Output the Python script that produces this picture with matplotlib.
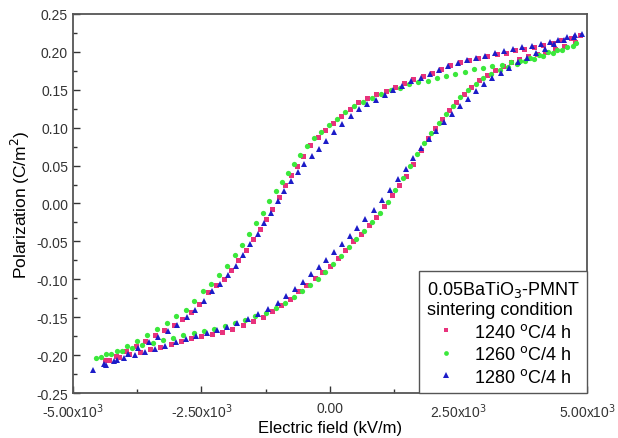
import matplotlib
matplotlib.use("Agg")
import matplotlib.pyplot as plt
from matplotlib.ticker import FixedLocator, MultipleLocator

plt.rcParams['font.family'] = ['Liberation Sans', 'DejaVu Sans']
plt.rcParams['axes.unicode_minus'] = False

# 1240 C / 4 h
x_up_1240 = [4860, 4680, 4500, 4330, 4150, 3960, 3780, 3600, 3420, 3240, 3060, 2880, 2700, 2520, 2340,
             2160, 1980, 1800, 1620, 1440, 1260, 1080, 900, 720, 540, 380, 220, 60, -100, -240,
             -380, -520, -640, -760, -880, -1000, -1120, -1240, -1370, -1500, -1640, -1780, -1920, -2070, -2220,
             -2380, -2540, -2700, -2870, -3040, -3220, -3400, -3590, -3780, -3970, -4170, -4380]
y_up_1240 = [0.222, 0.218, 0.215, 0.212, 0.209, 0.206, 0.204, 0.202, 0.199, 0.197, 0.195, 0.192, 0.189, 0.186, 0.182,
             0.177, 0.172, 0.168, 0.164, 0.159, 0.154, 0.148, 0.144, 0.139, 0.134, 0.124, 0.116, 0.106, 0.097, 0.088,
             0.077, 0.063, 0.050, 0.038, 0.024, 0.008, -0.007, -0.021, -0.034, -0.047, -0.061, -0.074, -0.088, -0.099, -0.107,
             -0.117, -0.132, -0.143, -0.152, -0.160, -0.167, -0.174, -0.181, -0.188, -0.195, -0.201, -0.207]
x_lo_1240 = [-4300, -4100, -3900, -3700, -3500, -3300, -3100, -2900, -2700, -2500, -2300, -2100, -1900, -1700, -1500,
             -1300, -1120, -950, -780, -620, -460, -300, -150, 0, 150, 300, 450, 600, 760, 900,
             1050, 1200, 1340, 1480, 1620, 1760, 1900, 2040, 2180, 2320, 2460, 2600, 2750, 2900, 3050,
             3200, 3360, 3520, 3680, 3850, 4020, 4190, 4370, 4560, 4760]
y_lo_1240 = [-0.206, -0.203, -0.199, -0.196, -0.192, -0.189, -0.185, -0.181, -0.178, -0.175, -0.172, -0.169, -0.165, -0.160, -0.155,
             -0.150, -0.142, -0.134, -0.126, -0.116, -0.107, -0.098, -0.090, -0.082, -0.072, -0.062, -0.050, -0.040, -0.028, -0.018,
             -0.003, 0.011, 0.024, 0.036, 0.052, 0.070, 0.086, 0.100, 0.112, 0.123, 0.134, 0.144, 0.154, 0.163, 0.170,
             0.176, 0.181, 0.186, 0.190, 0.194, 0.197, 0.200, 0.204, 0.208, 0.213]

# 1260 C / 4 h
x_up_1260 = [4780, 4600, 4420, 4240, 4060, 3880, 3700, 3520, 3340, 3160, 2980, 2800, 2620, 2440, 2260,
             2080, 1900, 1720, 1540, 1360, 1180, 1000, 820, 640, 470, 300, 140, -20, -170, -310,
             -450, -580, -700, -820, -940, -1060, -1180, -1300, -1430, -1570, -1710, -1850, -2000, -2150, -2310,
             -2470, -2640, -2810, -2990, -3170, -3360, -3550, -3750, -3950, -4150, -4350, -4550]
y_up_1260 = [0.212, 0.207, 0.203, 0.200, 0.196, 0.192, 0.188, 0.186, 0.183, 0.181, 0.179, 0.177, 0.174, 0.171, 0.168,
             0.165, 0.162, 0.160, 0.157, 0.152, 0.149, 0.145, 0.139, 0.134, 0.128, 0.120, 0.112, 0.103, 0.094, 0.086,
             0.076, 0.064, 0.052, 0.040, 0.028, 0.016, 0.003, -0.012, -0.026, -0.040, -0.055, -0.068, -0.082, -0.095, -0.106,
             -0.116, -0.128, -0.140, -0.149, -0.158, -0.166, -0.173, -0.181, -0.188, -0.194, -0.199, -0.204]
x_lo_1260 = [-4450, -4250, -4050, -3850, -3650, -3450, -3250, -3050, -2850, -2650, -2450, -2250, -2050, -1850, -1650,
             -1450, -1250, -1060, -880, -710, -550, -390, -240, -90, 60, 210, 360, 510, 660, 820,
             970, 1120, 1270, 1410, 1550, 1690, 1830, 1970, 2110, 2250, 2390, 2530, 2680, 2830, 2980,
             3140, 3300, 3460, 3630, 3800, 3970, 4150, 4330, 4520, 4720]
y_lo_1260 = [-0.203, -0.199, -0.195, -0.191, -0.187, -0.184, -0.180, -0.177, -0.174, -0.171, -0.168, -0.165, -0.162, -0.158, -0.154,
             -0.149, -0.145, -0.138, -0.131, -0.123, -0.115, -0.108, -0.100, -0.090, -0.080, -0.069, -0.058, -0.047, -0.036, -0.025,
             -0.012, 0.002, 0.018, 0.033, 0.049, 0.065, 0.080, 0.093, 0.106, 0.118, 0.129, 0.140, 0.150, 0.158, 0.165,
             0.171, 0.176, 0.180, 0.184, 0.188, 0.191, 0.195, 0.199, 0.203, 0.208]

# 1280 C / 4 h
x_up_1280 = [4900, 4760, 4600, 4440, 4270, 4100, 3920, 3740, 3560, 3380, 3200, 3020, 2840, 2660, 2480,
             2300, 2120, 1940, 1760, 1580, 1400, 1230, 1060, 890, 720, 560, 400, 240, 80, -70,
             -220, -360, -500, -630, -760, -890, -1020, -1150, -1280, -1410, -1550, -1690, -1830, -1980, -2130,
             -2290, -2450, -2620, -2790, -2970, -3150, -3340, -3530, -3730, -3930, -4140, -4360, -4600]
y_up_1280 = [0.224, 0.222, 0.219, 0.216, 0.213, 0.210, 0.208, 0.206, 0.204, 0.201, 0.198, 0.195, 0.192, 0.189, 0.185,
             0.181, 0.176, 0.171, 0.166, 0.161, 0.155, 0.149, 0.143, 0.137, 0.131, 0.124, 0.115, 0.105, 0.094, 0.083,
             0.072, 0.062, 0.052, 0.041, 0.029, 0.016, 0.003, -0.012, -0.026, -0.040, -0.054, -0.068, -0.082, -0.095, -0.106,
             -0.116, -0.128, -0.140, -0.150, -0.160, -0.168, -0.176, -0.183, -0.191, -0.199, -0.207, -0.213, -0.220]
x_lo_1280 = [-4400, -4200, -4000, -3800, -3600, -3400, -3200, -3000, -2800, -2600, -2400, -2200, -2000, -1800, -1600,
             -1400, -1200, -1020, -850, -690, -530, -370, -220, -70, 80, 230, 380, 530, 690, 850,
             1010, 1170, 1320, 1470, 1620, 1770, 1920, 2070, 2220, 2370, 2520, 2680, 2840, 3000, 3160,
             3320, 3490, 3660, 3830, 4000, 4180, 4360, 4550, 4750]
y_lo_1280 = [-0.212, -0.208, -0.204, -0.200, -0.196, -0.192, -0.188, -0.183, -0.179, -0.175, -0.171, -0.167, -0.163, -0.158, -0.152,
             -0.146, -0.139, -0.131, -0.122, -0.113, -0.103, -0.093, -0.084, -0.074, -0.064, -0.054, -0.043, -0.033, -0.021, -0.009,
             0.004, 0.018, 0.032, 0.046, 0.060, 0.073, 0.085, 0.096, 0.107, 0.118, 0.128, 0.138, 0.148, 0.157, 0.165,
             0.172, 0.179, 0.186, 0.192, 0.198, 0.204, 0.210, 0.215, 0.220]

labels = ['1240 $^{\\mathrm{o}}$C/4 h', '1260 $^{\\mathrm{o}}$C/4 h', '1280 $^{\\mathrm{o}}$C/4 h']
colors = ['#e8327c', '#3be83b', '#1c1cc8']
markers = ['s', 'o', '^']

xticks = [-5000, -2500, 0, 2500, 5000]
xtick_labels = ['-5.00x10$^3$', '-2.50x10$^3$', '0.00', '2.50x10$^3$', '5.00x10$^3$']

fig = plt.figure(figsize=(6.18, 4.39), dpi=100)
ax = fig.add_axes([0.118, 0.1025, 0.832, 0.8635])

series = [(x_up_1240 + x_lo_1240, y_up_1240 + y_lo_1240),
          (x_up_1260 + x_lo_1260, y_up_1260 + y_lo_1260),
          (x_up_1280 + x_lo_1280, y_up_1280 + y_lo_1280)]
sizes = [3.6, 3.8, 4.2]
for (xs, ys), lab, c, m, s in zip(series, labels, colors, markers, sizes):
    ax.plot(xs, ys, linestyle='none', marker=m, markersize=s, color=c,
            markeredgewidth=0, label=lab)

ax.set_xlim(-5000, 5000)
ax.set_ylim(-0.25, 0.25)
ax.xaxis.set_major_locator(FixedLocator(xticks))
ax.set_xticklabels(xtick_labels)
ax.xaxis.set_minor_locator(MultipleLocator(1250))
ax.yaxis.set_major_locator(MultipleLocator(0.05))
ax.yaxis.set_minor_locator(MultipleLocator(0.025))
ax.yaxis.set_major_formatter(matplotlib.ticker.FormatStrFormatter('%.2f'))
ax.tick_params(which='both', direction='in', top=False, right=False, labelsize=10, colors='#333333')
ax.tick_params(axis='x', which='major', pad=6)
ax.tick_params(which='major', length=5, width=1)
ax.tick_params(which='minor', length=3, width=1)
for sp in ax.spines.values():
    sp.set_color('#555555')
    sp.set_linewidth(1.3)

ax.set_xlabel('Electric field (kV/m)', fontsize=12, labelpad=0)
ax.set_ylabel('Polarization (C/m$^2$)', fontsize=12.5, labelpad=3)

leg = ax.legend(title='0.05BaTiO$_3$-PMNT\nsintering condition', loc='lower right',
                borderaxespad=0, fontsize=13, title_fontsize=13, fancybox=False,
                edgecolor='#555555', framealpha=1, handlelength=1.2, handletextpad=1.0,
                labelspacing=0.25, markerscale=0.9)
leg.get_frame().set_linewidth(1.0)
leg._legend_box.align = 'center'

fig.savefig('out.png', dpi=100)
